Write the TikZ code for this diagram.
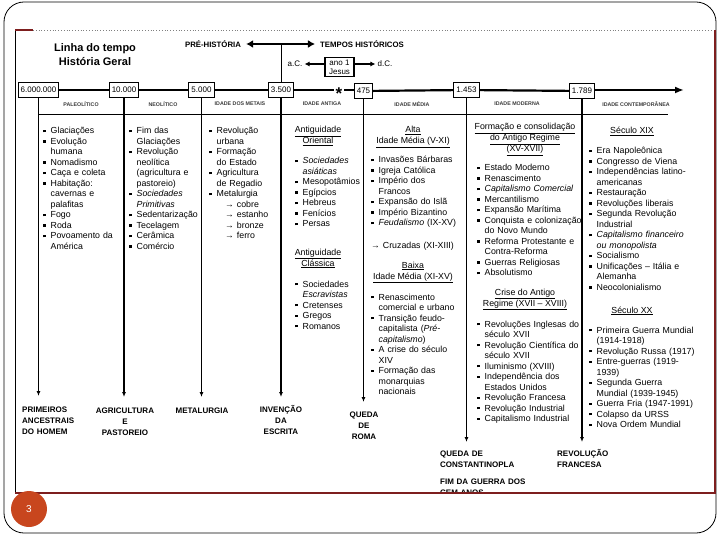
\documentclass[tikz,border=0pt]{standalone}
\usepackage{fontspec}
\setmainfont{Liberation Sans}
\usetikzlibrary{arrows.meta}
\definecolor{frameRed}{RGB}{125,30,30}
\definecolor{pgOrange}{RGB}{200,70,30}
\definecolor{eraGray}{RGB}{60,60,60}
\newcommand{\bulsq}{\makebox[7.5pt][l]{\raisebox{1.6pt}{\rule{2.4pt}{2.4pt}}}}
\newcommand{\itm}[1]{\noindent\hangindent=7.5pt\hangafter=1\bulsq #1\par}
\newcommand{\arr}[1]{\noindent\hspace*{16pt}→ #1\par}
\begin{document}
\begin{tikzpicture}[x=1pt,y=-1pt,
  lst/.style={font=\fontsize{8.8}{10.5}\selectfont, text width=130pt, inner sep=0pt, anchor=base west},
  hdr/.style={font=\fontsize{8.8}{10.5}\selectfont, inner sep=0pt, anchor=base},
  yearbox/.style={draw, line width=1pt, fill=white, font=\fontsize{8}{9}\selectfont, inner sep=2.5pt, minimum height=15pt},
  era/.style={font=\bfseries\fontsize{5.3}{6}\selectfont, text=eraGray, inner sep=0pt},
  vline/.style={line width=1.1pt, -{Latex[length=5pt,width=4pt]}},
  lbl/.style={font=\bfseries\fontsize{8}{11}\selectfont, inner sep=0pt, text width=80pt},
  topl/.style={font=\bfseries\fontsize{7.8}{9}\selectfont, inner sep=0pt},
]
\useasboundingbox (0,0) rectangle (720,540);
\fill[white] (0,0) rectangle (720,540);

% slide frame
\draw[line width=0.8pt, rounded corners=20pt] (4,2) rectangle (716,533);

\begin{scope}
\clip (15,30) rectangle (715,493);
% title
\node[font=\bfseries\fontsize{11}{13}\selectfont, inner sep=0pt] (t1) at (95,49) {Linha do tempo};
\node[font=\bfseries\fontsize{11}{13}\selectfont, inner sep=0pt] (t2) at (95,62) {História Geral};

% top arrows
\node[topl] (ph) at (213,44) {PRÉ-HISTÓRIA};
\node[topl] (th) at (362,44) {TEMPOS HISTÓRICOS};
\draw[line width=2.4pt, {Latex[length=7pt,width=8pt]}-{Latex[length=7pt,width=8pt]}, shorten <=5pt, shorten >=5pt] (ph) -- (th);
\coordinate (mid) at (281,44);

\node[draw, line width=1.5pt, align=center, font=\fontsize{8}{9}\selectfont, inner xsep=4pt, inner ysep=2pt] (jb) at (339.5,67) {ano 1\\Jesus};
\node[font=\fontsize{8}{9}\selectfont, inner sep=0pt] (ac) at (295,64) {a.C.};
\node[font=\fontsize{8}{9}\selectfont, inner sep=0pt] (dc) at (385,64) {d.C.};
\draw[line width=1.2pt, -{Latex[length=5pt,width=5pt]}, shorten >=2pt] (jb.west |- ac) -- (ac);
\draw[line width=1.2pt, -{Latex[length=5pt,width=5pt]}, shorten >=2pt] (jb.east |- dc) -- (dc);

% year boxes
\node[yearbox] (b1) at (38.5,90) {6.000.000};
\node[yearbox] (b2) at (124,90) {10.000};
\node[yearbox] (b3) at (201.5,90) {5.000};
\node[yearbox] (b4) at (281,90) {3.500};
\node[yearbox] (b5) at (363.5,91) {475};
\node[yearbox] (b6) at (466.5,90) {1.453};
\node[yearbox] (b7) at (582,91) {1.789};
\node[font=\bfseries\fontsize{17}{18}\selectfont, inner sep=1.5pt] (ast) at (339,94) {*};
\coordinate (tip) at (684,90);

\draw[line width=0.8pt] (mid) -- (b4);
\draw[line width=2.2pt] (b1) -- (b2);
\draw[line width=2.2pt] (b2) -- (b3);
\draw[line width=2.2pt] (b3) -- (b4);
\draw[line width=2.2pt] (b4.east) -- (b4.east -| ast.west);
\draw[line width=2.2pt] (b5.west |- b4.east) -- (b4.east -| ast.east);
\draw[line width=2.2pt] (b5) -- (b6);
\draw[line width=2.2pt] (b6) -- (b7);
\draw[line width=2.2pt, -{Latex[length=9pt,width=7pt]}] (b7.east |- tip) -- (tip);

% era labels
\node[era] (e1) at (81,104) {PALEOLÍTICO};
\node[era] (e2) at (163,104) {NEOLÍTICO};
\node[era] (e3) at (240,104) {IDADE DOS METAIS};
\node[era] (e4) at (322,104) {IDADE ANTIGA};
\node[era] (e5) at (412,104) {IDADE MÉDIA};
\node[era] (e6) at (517,104) {IDADE MODERNA};
\node[era] (e7) at (636,104) {IDADE CONTEMPORÂNEA};
\coordinate (ul1) at (38.5,114);
\coordinate (ul2) at (668,114);
\draw[line width=0.9pt] (ul1) -- (ul2);

% vertical period lines
\coordinate (v1) at (38.5,396);
\coordinate (v2) at (124,397);
\coordinate (v3) at (201.5,397);
\coordinate (v4) at (281,397);
\coordinate (v5) at (363.5,402);
\coordinate (v6) at (466.5,442);
\coordinate (v7) at (582,442);
\draw[vline] (b1) -- (v1);
\draw[vline] (b2) -- (v2);
\draw[vline] (b3) -- (v3);
\draw[vline] (b4) -- (v4);
\draw[vline] (b5) -- (v5);
\draw[vline] (b6) -- (v6);
\draw[vline] (b7) -- (v7);

% column 1
\node[lst] (c1) at (43,134) {\itm{Glaciações}\itm{Evolução\newline humana}\itm{Nomadismo}\itm{Caça e coleta}\itm{Habitação:\newline cavernas e\newline palafitas}\itm{Fogo}\itm{Roda}\itm{Povoamento da\newline América}};
% column 2
\node[lst] (c2) at (129,134) {\itm{Fim das\newline Glaciações}\itm{Revolução\newline neolítica\newline (agricultura e\newline pastoreio)}\itm{\textit{Sociedades\newline Primitivas}}\itm{Sedentarização}\itm{Tecelagem}\itm{Cerâmica}\itm{Comércio}};
% column 3
\node[lst] (c3) at (209,134) {\itm{Revolução\newline urbana}\itm{Formação\newline do Estado}\itm{Agricultura\newline de Regadio}\itm{Metalurgia}\arr{cobre}\arr{estanho}\arr{bronze}\arr{ferro}};
% column 4
\node[hdr] (h4a) at (318,133) {\underline{Antiguidade}};
\node[hdr] (h4b) at (318,144) {\underline{Oriental}};
\node[lst] (c4a) at (295,164) {\itm{\textit{Sociedades\newline asiáticas}}\itm{Mesopotâmios}\itm{Egípcios}\itm{Hebreus}\itm{Fenícios}\itm{Persas}};
\node[hdr] (h4c) at (318,255) {\underline{Antiguidade}};
\node[hdr] (h4d) at (318,266) {\underline{Clássica}};
\node[lst] (c4b) at (295,287) {\itm{Sociedades\newline \textit{Escravistas}}\itm{Cretenses}\itm{Gregos}\itm{Romanos}};
% column 5
\node[hdr] (h5a) at (413,133) {\underline{Alta}};
\node[hdr] (h5b) at (413,144) {\underline{Idade Média (V-XI)}};
\node[lst] (c5a) at (371,163) {\itm{Invasões Bárbaras}\itm{Igreja Católica}\itm{Império dos\newline Francos}\itm{Expansão do Islã}\itm{Império Bizantino}\itm{\textit{Feudalismo} (IX-XV)}};
\node[lst] (c5x) at (371,248) {→ Cruzadas (XI-XIII)};
\node[hdr] (h5c) at (413,268) {\underline{Baixa}};
\node[hdr] (h5d) at (413,279) {\underline{Idade Média (XI-XV)}};
\node[lst] (c5b) at (371,300) {\itm{Renascimento\newline comercial e urbano}\itm{Transição feudo-\newline capitalista (\textit{Pré-}\newline \textit{capitalismo})}\itm{A crise do século\newline XIV}\itm{Formação das\newline monarquias\newline nacionais}};
% column 6
\node[hdr] (h6a) at (525,130) {\underline{Formação e consolidação}};
\node[hdr] (h6b) at (525,141) {\underline{do Antigo Regime}};
\node[hdr] (h6c) at (525,152) {\underline{(XV-XVII)}};
\node[lst] (c6a) at (477,171) {\itm{Estado Moderno}\itm{Renascimento}\itm{\textit{Capitalismo Comercial}}\itm{Mercantilismo}\itm{Expansão Marítima}\itm{Conquista e colonização\newline do Novo Mundo}\itm{Reforma Protestante e\newline Contra-Reforma}\itm{Guerras Religiosas}\itm{Absolutismo}};
\node[hdr] (h6d) at (525,295) {\underline{Crise do Antigo}};
\node[hdr] (h6e) at (525,306) {\underline{Regime (XVII – XVIII)}};
\node[lst] (c6b) at (477,327) {\itm{Revoluções Inglesas do\newline século XVII}\itm{Revolução Científica do\newline século XVII}\itm{Iluminismo (XVIII)}\itm{Independência dos\newline Estados Unidos}\itm{Revolução Francesa}\itm{Revolução Industrial}\itm{Capitalismo Industrial}};
% column 7
\node[hdr] (h7a) at (632,134) {\underline{Século XIX}};
\node[lst] (c7a) at (589,154) {\itm{Era Napoleônica}\itm{Congresso de Viena}\itm{Independências latino-\newline americanas}\itm{Restauração}\itm{Revoluções liberais}\itm{Segunda Revolução\newline Industrial}\itm{\textit{Capitalismo financeiro\newline ou monopolista}}\itm{Socialismo}\itm{Unificações – Itália e\newline Alemanha}\itm{Neocolonialismo}};
\node[hdr] (h7b) at (632,313) {\underline{Século XX}};
\node[lst] (c7b) at (589,333) {\itm{Primeira Guerra Mundial\newline (1914-1918)}\itm{Revolução Russa (1917)}\itm{Entre-guerras (1919-\newline 1939)}\itm{Segunda Guerra\newline Mundial (1939-1945)}\itm{Guerra Fria (1947-1991)}\itm{Colapso da URSS}\itm{Nova Ordem Mundial}};

% bottom labels
\node[lbl, anchor=base west, align=left] (l1) at (22,412) {PRIMEIROS\\ANCESTRAIS\\DO HOMEM};
\node[lbl, anchor=base, align=center] (l2) at (125,413) {AGRICULTURA\\E\\PASTOREIO};
\node[lbl, anchor=base, align=center] (l3) at (202,413) {METALURGIA};
\node[lbl, anchor=base, align=center] (l4) at (281,412) {INVENÇÃO\\DA\\ESCRITA};
\node[lbl, anchor=base, align=center] (l5) at (364,417) {QUEDA\\DE\\ROMA};
\node[lbl, anchor=base west, align=left] (l6) at (440,456) {QUEDA DE\\CONSTANTINOPLA};
\node[lbl, anchor=base west, align=left, text width=110pt] (l7) at (440,484) {FIM DA GUERRA DOS\\CEM ANOS};
\node[lbl, anchor=base west, align=left] (l8) at (557,456) {REVOLUÇÃO\\FRANCESA};
\end{scope}

% image border
\draw[line width=0.8pt] (15,30) -- (15,493);
\draw[gray, dotted, line width=0.8pt] (33,30) -- (713,30);
\draw[frameRed, line width=2pt] (15,30) -- (33,30);
\draw[frameRed, line width=2pt] (15,493) -- (715,493) -- (715,30);

% page number
\node[circle, fill=pgOrange, minimum size=36pt, inner sep=0pt, text=white, font=\fontsize{10}{12}\selectfont] (pg) at (29,509) {3};
\end{tikzpicture}
\end{document}
